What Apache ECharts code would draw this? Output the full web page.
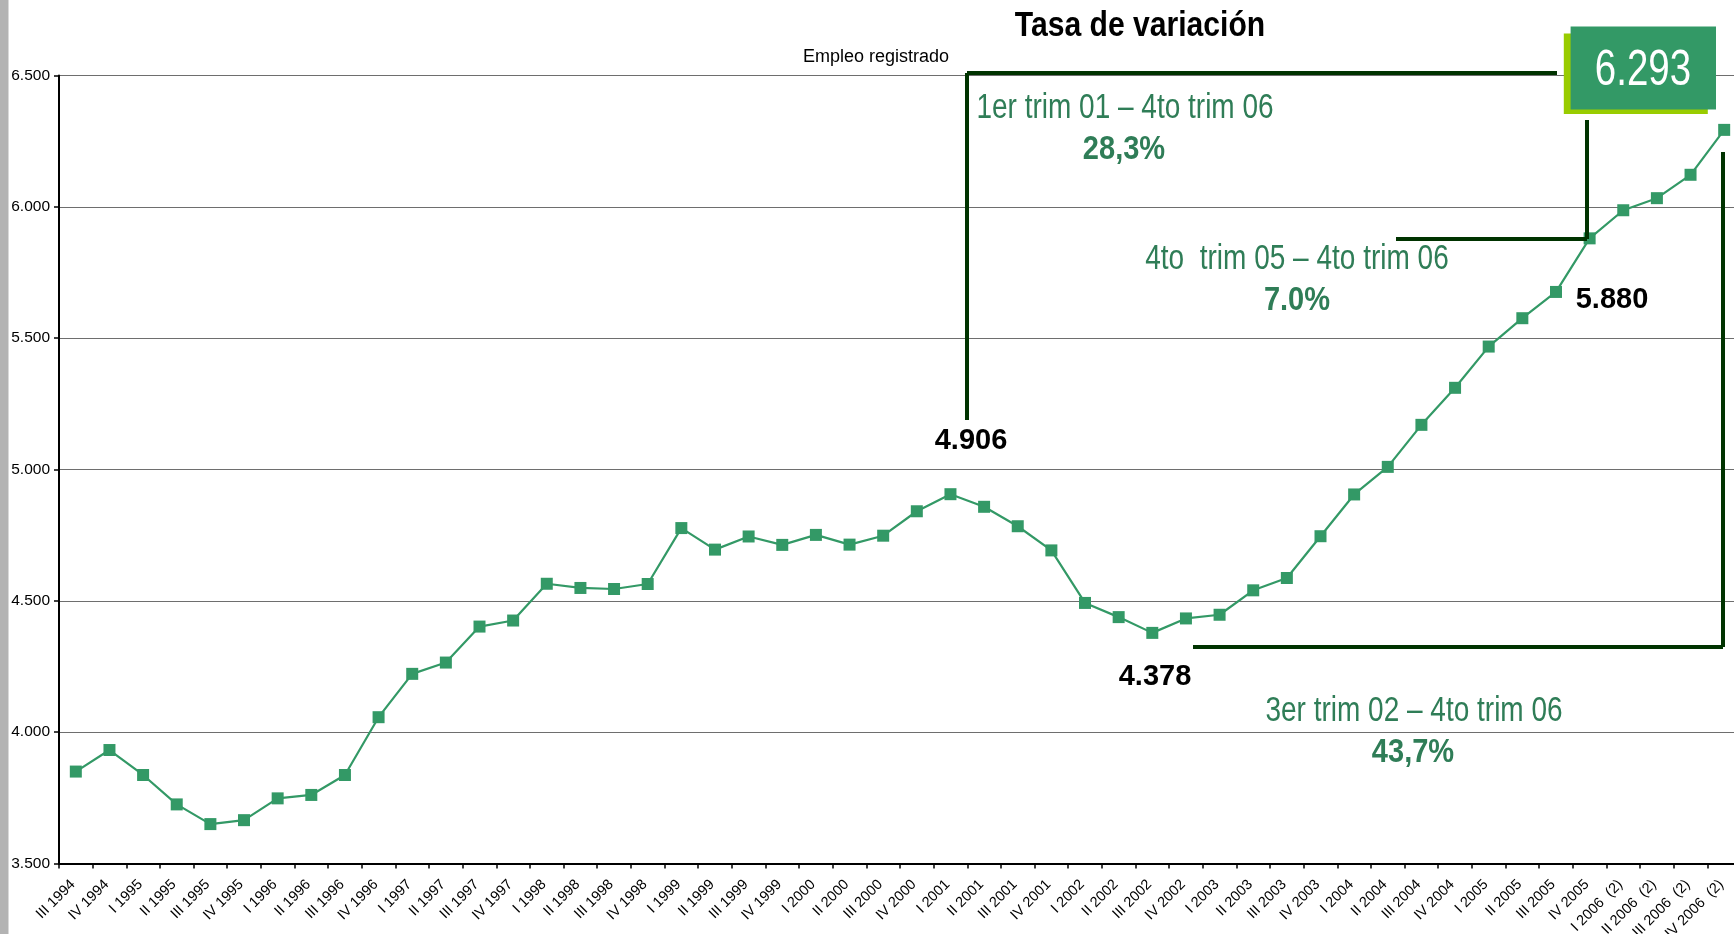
<!DOCTYPE html>
<html>
<head>
<meta charset="utf-8">
<script src="https://cdn.jsdelivr.net/npm/echarts@6/dist/echarts.min.js"></script>
<style>
html,body{margin:0;padding:0;background:#fff;}
#chart{width:1734px;height:934px;}
</style>
</head>
<body>
<div id="chart"></div>
<script>
const categories = [
  "III 1994","IV 1994",
  "I 1995","II 1995","III 1995","IV 1995",
  "I 1996","II 1996","III 1996","IV 1996",
  "I 1997","II 1997","III 1997","IV 1997",
  "I 1998","II 1998","III 1998","IV 1998",
  "I 1999","II 1999","III 1999","IV 1999",
  "I 2000","II 2000","III 2000","IV 2000",
  "I 2001","II 2001","III 2001","IV 2001",
  "I 2002","II 2002","III 2002","IV 2002",
  "I 2003","II 2003","III 2003","IV 2003",
  "I 2004","II 2004","III 2004","IV 2004",
  "I 2005","II 2005","III 2005","IV 2005",
  "I 2006  (2)","II 2006  (2)","III 2006  (2)","IV 2006  (2)"
];
const empleo = [
  3850,3932,
  3837,3725,3650,3665,
  3748,3761,3837,4057,
  4222,4265,4402,4425,
  4565,4549,4545,4564,
  4777,4695,4745,4713,
  4751,4714,4748,4841,
  4906,4858,4784,4692,
  4492,4438,4378,4433,
  4447,4540,4587,4746,
  4905,5010,5170,5311,
  5468,5576,5676,5880,
  5987,6033,6122,6293
];
const yTicks = [3500,4000,4500,5000,5500,6000,6500];

const ARIAL = "'Liberation Sans',Arial,sans-serif";
const GREEN_TXT = '#2f7d57';
const DARK = '#003300';

function fmt(v){ return String(v).replace(/\B(?=(\d{3})+(?!\d))/g,'.'); }

const chart = echarts.init(document.getElementById('chart'), null, {renderer:'canvas'});

function txt(text, x, y, size, opts){
  opts = opts || {};
  return {
    type:'text', z:100,
    x:x, y:y, scaleX: opts.sx || 1, scaleY:1,
    style:{
      text:text, x:0, y:0,
      textAlign: opts.align || 'center',
      textVerticalAlign:'middle', verticalAlign:'middle',
      fontSize:size, fontFamily: ARIAL,
      fontWeight: opts.weight || 'normal',
      fill: opts.color || '#000'
    }
  };
}
function ln(x1,y1,x2,y2){
  return {type:'line', z:90, shape:{x1:x1,y1:y1,x2:x2,y2:y2}, style:{stroke:DARK, lineWidth:4}};
}

chart.setOption({
  animation:false,
  grid:{left:59, top:75.5, width:1682, height:788, containLabel:false, outerBoundsMode:'none'},
  xAxis:{
    type:'category', data:categories, boundaryGap:true,
    axisLine:{lineStyle:{color:'#000', width:2}},
    axisTick:{show:true, interval:0, length:5, lineStyle:{color:'#000', width:1.5}},
    axisLabel:{interval:0, rotate:45, fontSize:14.5, fontFamily:ARIAL, color:'#000', margin:16, padding:[0,4,0,0]}
  },
  yAxis:{
    type:'value', min:yTicks[0], max:yTicks[yTicks.length-1], interval:500,
    axisLine:{show:true, lineStyle:{color:'#000', width:2}},
    axisTick:{show:true, length:5, lineStyle:{color:'#000', width:1.5}},
    axisLabel:{formatter:fmt, fontSize:15.5, fontFamily:ARIAL, color:'#000', margin:9},
    splitLine:{show:true, lineStyle:{color:'#6e6e6e', width:1}}
  },
  series:[{
    type:'line', data:empleo,
    symbol:'rect', symbolSize:12,
    lineStyle:{color:'#339966', width:2.2},
    itemStyle:{color:'#339966'},
    z:10
  }],
  graphic:[
    {type:'rect', shape:{x:0,y:0,width:8.5,height:934}, style:{fill:'#b3b3b3'}, z:100},
    txt('Tasa de variación', 1140, 26, 35, {weight:'bold', sx:0.86}),
    txt('Empleo registrado', 876, 57, 18),
    ln(967,73,1557,73), ln(967,73,967,420),
    ln(1587,120,1587,239), ln(1396,239,1587,239),
    ln(1723,152,1723,647), ln(1193,647,1723,647),
    {type:'rect', z:95, shape:{x:1563.8,y:33.4,width:144,height:80.6}, style:{fill:'#99cc00'}},
    {type:'rect', z:96, shape:{x:1570.6,y:26.6,width:145.4,height:83}, style:{fill:'#339966'}},
    txt('6.293', 1643, 71, 50, {color:'#fff', sx:0.77}),
    txt('1er trim 01 \u2013 4to trim 06', 1125, 108, 35, {color:GREEN_TXT, sx:0.8}),
    txt('28,3%', 1124, 150, 33, {color:GREEN_TXT, weight:'bold', sx:0.88}),
    txt('4to  trim 05 \u2013 4to trim 06', 1297, 259, 35, {color:GREEN_TXT, sx:0.8}),
    txt('7.0%', 1297, 301, 33, {color:GREEN_TXT, weight:'bold', sx:0.88}),
    txt('3er trim 02 \u2013 4to trim 06', 1414, 711, 35, {color:GREEN_TXT, sx:0.8}),
    txt('43,7%', 1413, 753, 33, {color:GREEN_TXT, weight:'bold', sx:0.88}),
    txt('4.906', 971, 441, 29, {weight:'bold'}),
    txt('4.378', 1155, 677, 29, {weight:'bold'}),
    txt('5.880', 1612, 300, 29, {weight:'bold'})
  ]
});
</script>
</body>
</html>
